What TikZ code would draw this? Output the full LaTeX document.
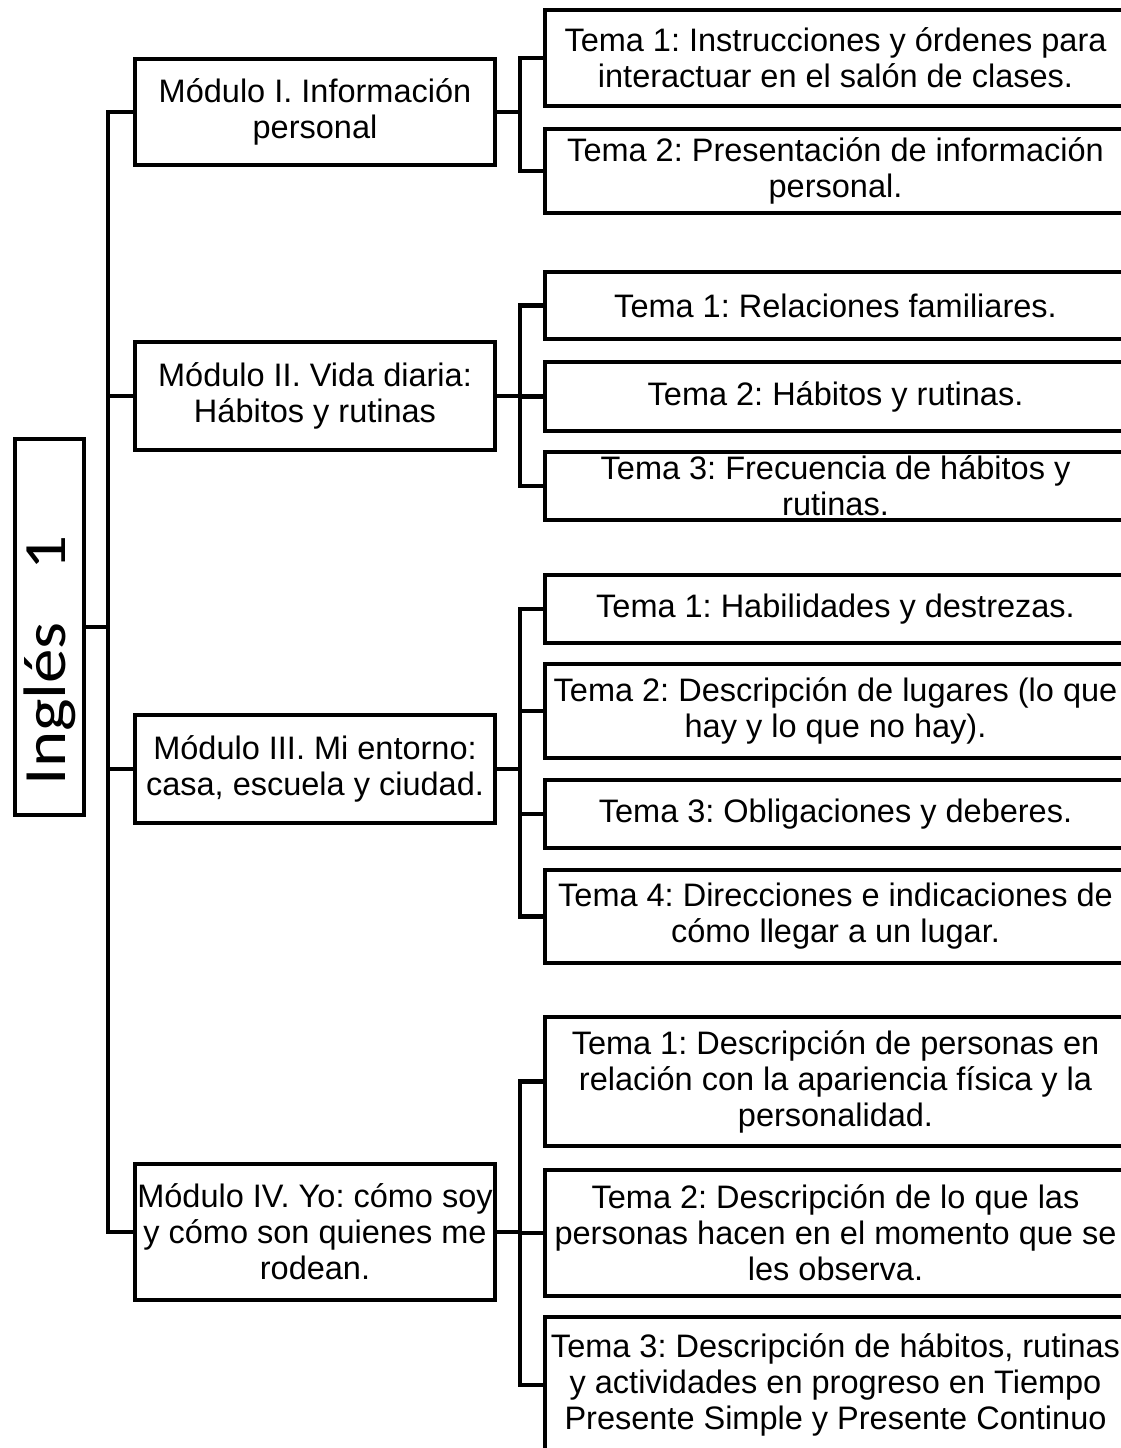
\documentclass[tikz,border=0pt]{standalone}
\usepackage{fontspec}
\usepackage{graphicx}
\setmainfont{Liberation Sans}
\newfontfamily\rootfont{Carlito}
\frenchspacing
\tikzset{
  box/.style={draw=black, line width=4.5pt, fill=white, align=center, inner sep=0pt,
    font={\fontsize{32.5}{36}\selectfont}},
  modbox/.style={box, minimum width=360pt},
  temabox/.style={box, minimum width=581pt},
  conn/.style={draw=black, line width=4.5pt, line join=miter}
}
\begin{document}
\begin{tikzpicture}[x=1pt,y=-1pt]
\useasboundingbox (0,0) rectangle (1121,1448);
\clip (0,0) rectangle (1121,1448);
\fill[white] (0,0) rectangle (1121,1448);
\coordinate (tx) at (108,0);
\coordinate (sx) at (520,0);
% root
\node[box, minimum width=69pt, minimum height=376pt] (root) at (49.5,627)
  {\rotatebox{90}{\scalebox{1.15}[1]{\rootfont\fontsize{60}{60}\selectfont Inglés\hspace{45pt}1\hspace{58pt}}}};
% modules
\node[modbox, minimum height=106pt] (m1) at (315,112) {Módulo I. Información\\personal};
\node[modbox, minimum height=108pt] (m2) at (315,396) {Módulo II. Vida diaria:\\Hábitos y rutinas};
\node[modbox, minimum height=108pt] (m3) at (315,769) {Módulo III. Mi entorno:\\casa, escuela y ciudad.};
\node[modbox, minimum height=136pt] (m4) at (315,1232) {Módulo IV. Yo: cómo soy\\y cómo son quienes me\\rodean.};
% temas module I
\node[temabox, minimum height=96pt] (t11) at (835.5,58) {Tema 1: Instrucciones y órdenes para\\interactuar en el salón de clases.};
\node[temabox, minimum height=84pt] (t12) at (835.5,171) {Tema 2: Presentación de información\\personal.};
% temas module II
\node[temabox, minimum height=67pt] (t21) at (835.5,305.5) {Tema 1: Relaciones familiares.};
\node[temabox, minimum height=69pt] (t22) at (835.5,396.5) {Tema 2: Hábitos y rutinas.};
\node[temabox, minimum height=68pt] (t23) at (835.5,486) {Tema 3: Frecuencia de hábitos y\\rutinas.};
% temas module III
\node[temabox, minimum height=68pt] (t31) at (835.5,609) {Tema 1: Habilidades y destrezas.};
\node[temabox, minimum height=94pt] (t32) at (835.5,711) {Tema 2: Descripción de lugares (lo que\\hay y lo que no hay).};
\node[temabox, minimum height=68pt] (t33) at (835.5,814) {Tema 3: Obligaciones y deberes.};
\node[temabox, minimum height=93pt] (t34) at (835.5,916.5) {Tema 4: Direcciones e indicaciones de\\cómo llegar a un lugar.};
% temas module IV
\node[temabox, minimum height=129pt] (t41) at (835.5,1081.5) {Tema 1: Descripción de personas en\\relación con la apariencia física y la\\personalidad.};
\node[temabox, minimum height=126pt] (t42) at (835.5,1233) {Tema 2: Descripción de lo que las\\personas hacen en el momento que se\\les observa.};
\node[temabox, minimum height=136pt] (t43) at (835.5,1385) {Tema 3: Descripción de hábitos, rutinas\\y actividades en progreso en Tiempo\\Presente Simple y Presente Continuo};
% main trunk
\draw[conn] (m1.west) -- (m1.west -| tx) |- (m4.west);
\draw[conn] (m2.west) -- (m2.west -| tx);
\draw[conn] (m3.west) -- (m3.west -| tx);
\draw[conn] (root.east) -- (root.east -| tx);
% module I branch
\draw[conn] (t11.west) -- (t11.west -| sx) |- (t12.west);
\draw[conn] (m1.east) -- (m1.east -| sx);
% module II branch
\draw[conn] (t21.west) -- (t21.west -| sx) |- (t23.west);
\draw[conn] (t22.west) -- (t22.west -| sx);
\draw[conn] (m2.east) -- (m2.east -| sx);
% module III branch
\draw[conn] (t31.west) -- (t31.west -| sx) |- (t34.west);
\draw[conn] (t32.west) -- (t32.west -| sx);
\draw[conn] (t33.west) -- (t33.west -| sx);
\draw[conn] (m3.east) -- (m3.east -| sx);
% module IV branch
\draw[conn] (t41.west) -- (t41.west -| sx) |- (t43.west);
\draw[conn] (t42.west) -- (t42.west -| sx);
\draw[conn] (m4.east) -- (m4.east -| sx);
\end{tikzpicture}
\end{document}
